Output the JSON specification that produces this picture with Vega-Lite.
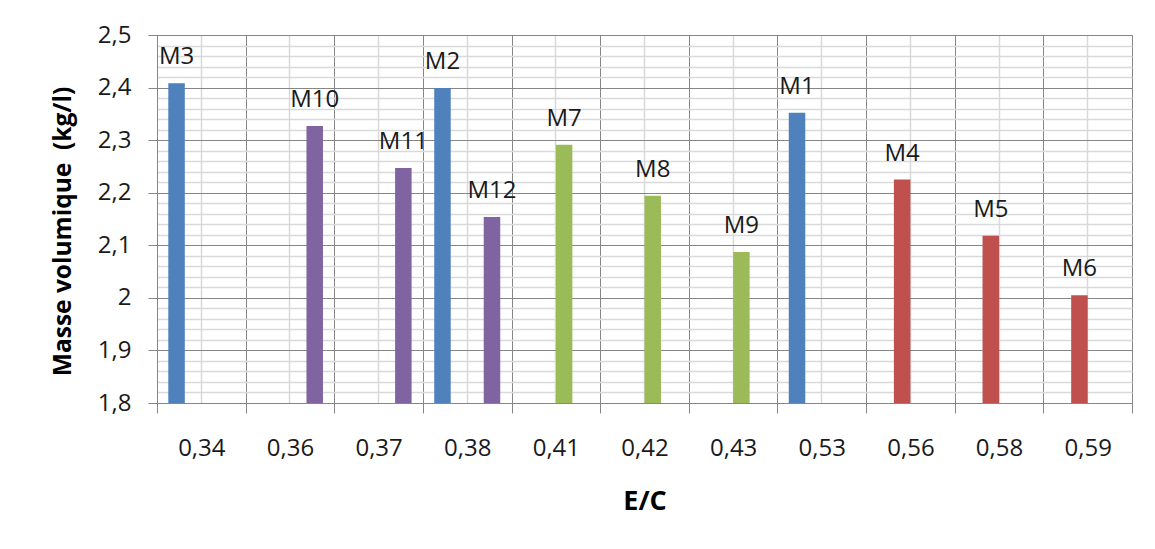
{
  "$schema": "https://vega.github.io/schema/vega-lite/v6.json",
  "width": 975,
  "height": 368,
  "autosize": {"type": "none"},
  "padding": {"left": 157, "top": 35, "right": 23, "bottom": 146},
  "background": "white",
  "config": {"font": "Open Sans", "view": {"stroke": "#868686", "strokeWidth": 1}},
  "data": {"values": [
    {"ec": "0,34", "nom": "M3", "serie": "S1", "mv": 2.408},
    {"ec": "0,36", "nom": "M10", "serie": "S4", "mv": 2.327},
    {"ec": "0,37", "nom": "M11", "serie": "S4", "mv": 2.247},
    {"ec": "0,38", "nom": "M2", "serie": "S1", "mv": 2.399},
    {"ec": "0,38", "nom": "M12", "serie": "S4", "mv": 2.154},
    {"ec": "0,41", "nom": "M7", "serie": "S3", "mv": 2.291},
    {"ec": "0,42", "nom": "M8", "serie": "S3", "mv": 2.194},
    {"ec": "0,43", "nom": "M9", "serie": "S3", "mv": 2.087},
    {"ec": "0,53", "nom": "M1", "serie": "S1", "mv": 2.352},
    {"ec": "0,56", "nom": "M4", "serie": "S2", "mv": 2.225},
    {"ec": "0,58", "nom": "M5", "serie": "S2", "mv": 2.118},
    {"ec": "0,59", "nom": "M6", "serie": "S2", "mv": 2.005}
  ]},
  "resolve": {"axis": {"x": "independent", "y": "independent"}},
  "layer": [
    {
      "mark": {"type": "bar"},
      "encoding": {
        "x": {"field": "ec", "type": "nominal",
          "sort": ["0,34","0,36","0,37","0,38","0,41","0,42","0,43","0,53","0,56","0,58","0,59"],
          "scale": {"paddingInner": 0, "paddingOuter": 0},
          "axis": {"orient": "bottom", "tickBand": "center", "labels": false, "ticks": false, "domain": false, "title": null,
                   "grid": true, "gridColor": "#d9d9d9", "gridWidth": 1.5}},
        "xOffset": {"field": "serie", "type": "nominal",
          "scale": {"domain": ["S1","S2","S3","S4"], "paddingInner": 0, "paddingOuter": 0.685}},
        "y": {"field": "mv", "type": "quantitative",
          "scale": {"domain": [1.8, 2.5], "zero": false, "nice": false},
          "axis": {"orient": "left", "values": [1.82,1.84,1.86,1.88,1.92,1.94,1.96,1.98,2.02,2.04,2.06,2.08,2.12,2.14,2.16,2.18,2.22,2.24,2.26,2.28,2.32,2.34,2.36,2.38,2.42,2.44,2.46,2.48],
                   "labels": false, "ticks": false, "domain": false, "title": null,
                   "grid": true, "gridColor": "#d9d9d9", "gridWidth": 1.5}},
        "y2": {"datum": 1.8},
        "color": {"field": "serie", "type": "nominal",
          "scale": {"domain": ["S1","S2","S3","S4"], "range": ["#4F81BD","#C0504D","#9BBB59","#8064A2"]},
          "legend": null}
      }
    },
    {
      "mark": {"type": "text", "dy": -19, "baseline": "alphabetic", "fontSize": 24, "color": "#1a1a1a"},
      "encoding": {
        "x": {"field": "ec", "type": "nominal",
          "sort": ["0,34","0,36","0,37","0,38","0,41","0,42","0,43","0,53","0,56","0,58","0,59"],
          "axis": {"orient": "bottom", "tickBand": "extent", "grid": true, "gridColor": "#868686", "gridWidth": 1,
                   "domainColor": "#868686", "tickColor": "#868686", "tickSize": 10,
                   "labelFontSize": 24, "labelColor": "#1a1a1a", "labelPadding": 23, "labelAngle": 0,
                   "title": "E/C", "titleFontSize": 27, "titleFontWeight": "bold", "titleColor": "#000", "titlePadding": 28}},
        "xOffset": {"field": "serie", "type": "nominal"},
        "y": {"field": "mv", "type": "quantitative",
          "axis": {"orient": "left", "values": [1.8,1.9,2.0,2.1,2.2,2.3,2.4,2.5],
                   "labelExpr": "replace(format(datum.value, '.1~f'), '.', ',')",
                   "grid": true, "gridColor": "#868686", "gridWidth": 1,
                   "domainColor": "#868686", "tickColor": "#868686", "tickSize": 9,
                   "labelFontSize": 24, "labelColor": "#1a1a1a", "labelPadding": 17,
                   "title": "Masse volumique\u00a0 (kg/l)", "titleFontSize": 24.5, "titleFontWeight": "bold", "titleColor": "#000", "titlePadding": 22, "titleY": 196}},
        "text": {"field": "nom"}
      }
    }
  ]
}
